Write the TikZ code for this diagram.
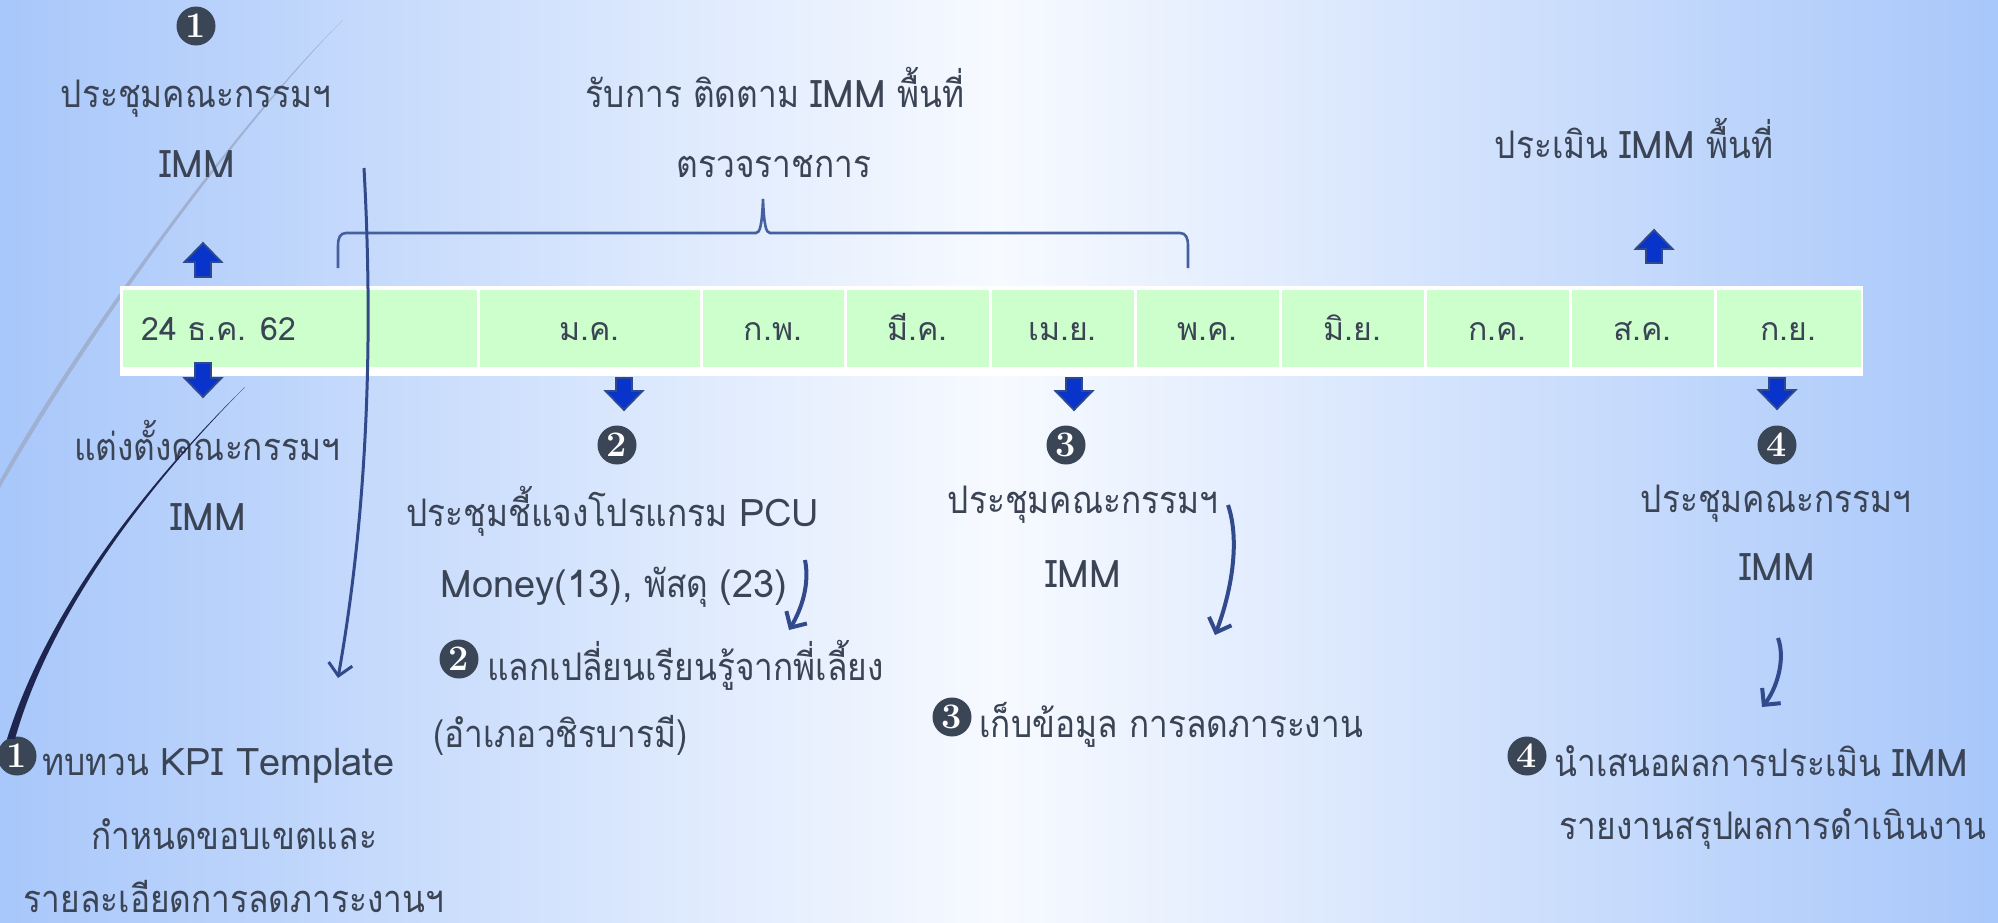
\documentclass[tikz,border=0pt]{standalone}
\usepackage{fontspec}
\newfontfamily\thaifont[Script=Thai, FakeStretch=0.88]{Loma}
\newfontfamily\latfont[Script=Thai]{Loma}
\newcommand{\lat}[1]{{\latfont #1}}
\usetikzlibrary{arrows.meta}
\definecolor{bgL}{RGB}{168,199,250}
\definecolor{bgM}{RGB}{247,250,255}
\definecolor{txtc}{RGB}{59,68,84}
\definecolor{cellg}{RGB}{204,255,204}
\definecolor{numc}{RGB}{58,69,86}
\definecolor{arrc}{RGB}{50,74,140}
\definecolor{blkf}{RGB}{8,52,204}
\definecolor{blkb}{RGB}{46,74,140}
\definecolor{arcg}{RGB}{160,176,208}
\definecolor{darkl}{RGB}{30,38,80}
\definecolor{bracec}{RGB}{69,96,160}
\newcommand{\blkup}[3]{\path[blk] (#1,#2) -- (#1+18.5,#2+19) -- (#1+8,#2+19) -- (#1+8,#3) -- (#1-8,#3) -- (#1-8,#2+19) -- (#1-18.5,#2+19) -- cycle;}
\newcommand{\blkdown}[3]{\path[blk] (#1,#3) -- (#1+18.5,#3-19) -- (#1+8,#3-19) -- (#1+8,#2) -- (#1-8,#2) -- (#1-8,#3-19) -- (#1-18.5,#3-19) -- cycle;}
\tikzset{
 lbl/.style={font=\thaifont\fontsize{19}{23}\selectfont, text=txtc, inner sep=0pt, anchor=base},
 lblw/.style={lbl, anchor=base west},
 celltxt/.style={font=\latfont\fontsize{16}{20}\selectfont, text=txtc, inner sep=0pt, anchor=base},
 numb/.style={circle, fill=numc, text=white, inner sep=0pt, minimum size=19.5pt, font=\fontsize{18}{18}\selectfont\bfseries},
 curvarr/.style={draw=arrc, line width=2pt, -{Straight Barb[length=6pt,width=12pt]}},
 longarr/.style={draw=arrc, line width=1.5pt, -{Straight Barb[length=6pt,width=12pt]}},
 blk/.style={fill=blkf, draw=blkb, line width=0.9pt, line join=miter},
}
\begin{document}
\begin{tikzpicture}[x=0.5pt,y=-0.5pt]
\useasboundingbox (0,0) rectangle (1998,922);
\clip (0,0) rectangle (1998,922);
\shade[left color=bgL, right color=bgL, middle color=bgM] (0,0) rectangle (1998,922);
% decorative arc
\fill[arcg] (343,20) .. controls (250,110) and (90,320) .. (0,480) -- (0,488) .. controls (94,322) and (252,111) .. (343,20) -- cycle;
% table
\fill[white] (120,286) rectangle (1863,376);
\foreach \a/\b in {121/478,478/701,701/845,845/990,990/1135,1135/1280,1280/1425,1425/1570,1570/1715,1715/1862}
  \fill[cellg] (\a+1.5,290) rectangle (\b-1.5,367);
\node[celltxt, anchor=base west] (c0) at (141,340) {24 ธ.ค. 62};
\node[celltxt] (c1) at (589.5,340) {ม.ค.};
\node[celltxt] (c2) at (773,340) {ก.พ.};
\node[celltxt] (c3) at (917.5,340) {มี.ค.};
\node[celltxt] (c4) at (1062.5,340) {เม.ย.};
\node[celltxt] (c5) at (1207.5,340) {พ.ค.};
\node[celltxt] (c6) at (1352.5,340) {มิ.ย.};
\node[celltxt] (c7) at (1497.5,340) {ก.ค.};
\node[celltxt] (c8) at (1642.5,340) {ส.ค.};
\node[celltxt] (c9) at (1788.5,340) {ก.ย.};
% block arrows
\blkup{203}{243}{277}
\blkup{1654}{230}{263}
\blkdown{203}{363}{397}
\blkdown{624}{378}{410}
\blkdown{1074}{378}{410}
\blkdown{1777}{378}{409}
% brace
\draw[bracec, line width=1.3pt] (338,268) -- (338,246) .. controls (338,238) and (340,233) .. (346,233) -- (756,233) .. controls (760,233) and (762,225) .. (763,199) .. controls (764,225) and (766,233) .. (770,233) -- (1180,233) .. controls (1186,233) and (1188,238) .. (1188,246) -- (1188,268);
% top texts
\node[numb] (n1) at (196,26) {1};
\node[lbl] (t1a) at (196,107) {ประชุมคณะกรรมฯ};
\node[lbl] (t1b) at (197,177) {\lat{IMM}};
\node[lbl] (tr1) at (775,107) {รับการ ติดตาม \lat{IMM} พื้นที่};
\node[lbl] (tr2) at (774,177) {ตรวจราชการ};
\node[lbl] (tp) at (1634,158) {ประเมิน \lat{IMM} พื้นที่};
% bottom texts column 1
\node[lbl] (b1a) at (207,460) {แต่งตั้งคณะกรรมฯ};
\node[lbl] (b1b) at (208,530) {\lat{IMM}};
\node[numb] (n1b) at (17,756) {1};
\node[lblw] (b1c) at (42,775) {ทบทวน \lat{KPI Template}};
\node[lbl] (b1d) at (234,849) {กำหนดขอบเขตและ};
\node[lbl] (b1e) at (234,912) {รายละเอียดการลดภาระงานฯ};
% column 2
\node[numb] (n2) at (617,445) {2};
\node[lbl] (b2a) at (613,526) {ประชุมชี้แจงโปรแกรม \lat{PCU}};
\node[lbl] (b2b) at (614,597) {\lat{Money(13),} พัสดุ \lat{(23)}};
\node[numb] (n2b) at (459,659) {2};
\node[lblw] (b2c) at (487,680) {แลกเปลี่ยนเรียนรู้จากพี่เลี้ยง};
\node[lblw] (b2d) at (433,747) {(อำเภอวชิรบารมี)};
% column 3
\node[numb] (n3) at (1066,445) {3};
\node[lbl] (b3a) at (1083,513) {ประชุมคณะกรรมฯ};
\node[lbl] (b3b) at (1083,587) {\lat{IMM}};
\node[numb] (n3b) at (952,717) {3};
\node[lblw] (b3c) at (979,737) {เก็บข้อมูล การลดภาระงาน};
% column 4
\node[numb] (n4) at (1777,445) {4};
\node[lbl] (b4a) at (1776,512) {ประชุมคณะกรรมฯ};
\node[lbl] (b4b) at (1777,580) {\lat{IMM}};
\node[numb] (n4b) at (1527,756) {4};
\node[lblw] (b4c) at (1554,776) {นำเสนอผลการประเมิน \lat{IMM}};
\node[lbl] (b4d) at (1773,839) {รายงานสรุปผลการดำเนินงาน};
% connectors
\coordinate (dl0) at (245,387);
\coordinate (la0) at (364,168);
\coordinate (la1) at (338,678);
\coordinate (aa0) at (805,560);
\coordinate (aa1) at (789,630);
\coordinate (ab0) at (1228,505);
\coordinate (ab1) at (1215,635);
\coordinate (ac0) at (1778,638);
\coordinate (ac1) at (1762,707);
\fill[darkl] (dl0) .. controls (160,470) and (50,600) .. (n1b.120) -- ([xshift=4]n1b.120) .. controls (54,601) and (162,471) .. (dl0) -- cycle;
\draw[longarr] (la0) .. controls (374,350) and (366,520) .. (la1);
\draw[curvarr] (aa0) .. controls (810,585) and (801,610) .. (aa1);
\draw[curvarr] (ab0) .. controls (1240,540) and (1232,590) .. (ab1);
\draw[curvarr] (ac0) .. controls (1786,660) and (1776,690) .. (ac1);
\end{tikzpicture}
\end{document}
